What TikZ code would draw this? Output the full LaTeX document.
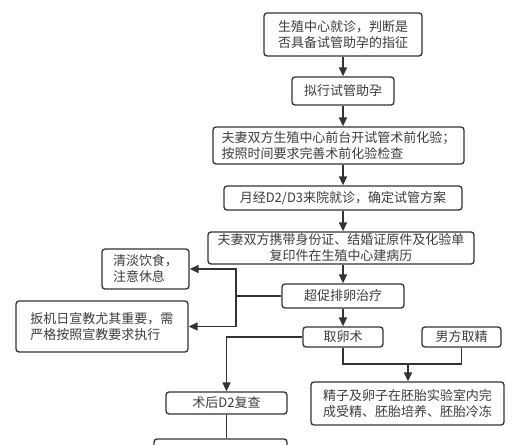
\documentclass[tikz,border=0pt]{standalone}
\usepackage{fontspec}
\setmainfont{Noto Sans CJK SC}
\usepackage{tikz}
\usetikzlibrary{positioning,
                arrows.meta}                % arrow tips

\definecolor{boxgray}{HTML}{333333}
\definecolor{txtgray}{HTML}{3C3C3C}

\tikzset{
    stepbox/.style={draw=boxgray, line width=1.3pt, rounded corners=3pt,
                    fill=white, text=txtgray, align=center, inner sep=2pt},
    flow/.style={draw=boxgray, line width=1.5pt, -{Triangle[length=9pt,width=8pt]}},
    link/.style={draw=boxgray, line width=1.5pt},
}

\begin{document}
\begin{tikzpicture}[x=1pt, y=-1pt, font=\fontsize{13}{16}\selectfont]
    \useasboundingbox (0,0) rectangle (523,445);
    \clip (0,0) rectangle (523,445);

    % main column
    \node[stepbox, minimum width=158pt, minimum height=43pt] (visit) at (343,34.5)
        {生殖中心就诊，判断是\\否具备试管助孕的指征};
    \node[stepbox, minimum width=102pt, minimum height=28pt] (plan) at (343,91)
        {拟行试管助孕};
    \node[stepbox, align=left, minimum width=251pt, minimum height=37pt] (tests) at (338.5,145.5)
        {夫妻双方生殖中心前台开试管术前化验；\\按照时间要求完善术前化验检查};
    \node[stepbox, minimum width=238pt, minimum height=24pt] (cycle) at (343,198)
        {月经D2/D3来院就诊，确定试管方案};
    \node[stepbox, minimum width=266pt, minimum height=32pt] (record) at (341,248)
        {夫妻双方携带身份证、结婚证原件及化验单\\复印件在生殖中心建病历};
    \node[stepbox, minimum width=122pt, minimum height=24pt] (stim) at (343,296)
        {超促排卵治疗};
    \node[stepbox, minimum width=80pt, minimum height=20pt] (retrieve) at (343,337)
        {取卵术};
    \node[stepbox, minimum width=79pt, minimum height=20pt] (sperm) at (461.5,337)
        {男方取精};
    \node[stepbox, align=left, minimum width=193pt, minimum height=43pt] (embryo) at (407.5,403.5)
        {精子及卵子在胚胎实验室内完\\成受精、胚胎培养、胚胎冷冻};

    % side notes
    \node[stepbox, align=left, minimum width=87pt, minimum height=40pt] (diet) at (145.5,269)
        {清淡饮食，\\注意休息};
    \node[stepbox, align=left, minimum width=172pt, minimum height=51pt] (trigger) at (102,326.5)
        {扳机日宣教尤其重要，需\\严格按照宣教要求执行};

    % after retrieval
    \node[stepbox, minimum width=121pt, minimum height=22pt] (review) at (226.5,403)
        {术后D2复查};
    \node[stepbox, minimum width=133pt, minimum height=30pt] (next) at (220.5,454) {};

    \draw[flow] (visit) -- (plan);
    \draw[flow] (plan.south) -- (plan.south |- tests.north);
    \draw[flow] (plan.south |- tests.south) -- (cycle.north);
    \draw[flow] (cycle.south) -- (cycle.south |- record.north);
    \draw[flow] (cycle.south |- record.south) -- (stim.north);
    \draw[flow] (stim) -- (retrieve);

    \coordinate (fork) at (236,296);
    \draw[link] (stim.west) -- (fork);
    \draw[flow] (fork) |- (diet.east);
    \draw[flow] (fork) |- (trigger.east);

    \coordinate (merge) at (408,364);
    \draw[link] (retrieve.south) |- (merge) -| (sperm.south);
    \draw[flow] (merge) -- (merge |- embryo.north);

    \draw[flow] (retrieve.west) -| (review.north);
    \draw[link] (review.south) -- (review.south |- next.north);
\end{tikzpicture}
\end{document}
